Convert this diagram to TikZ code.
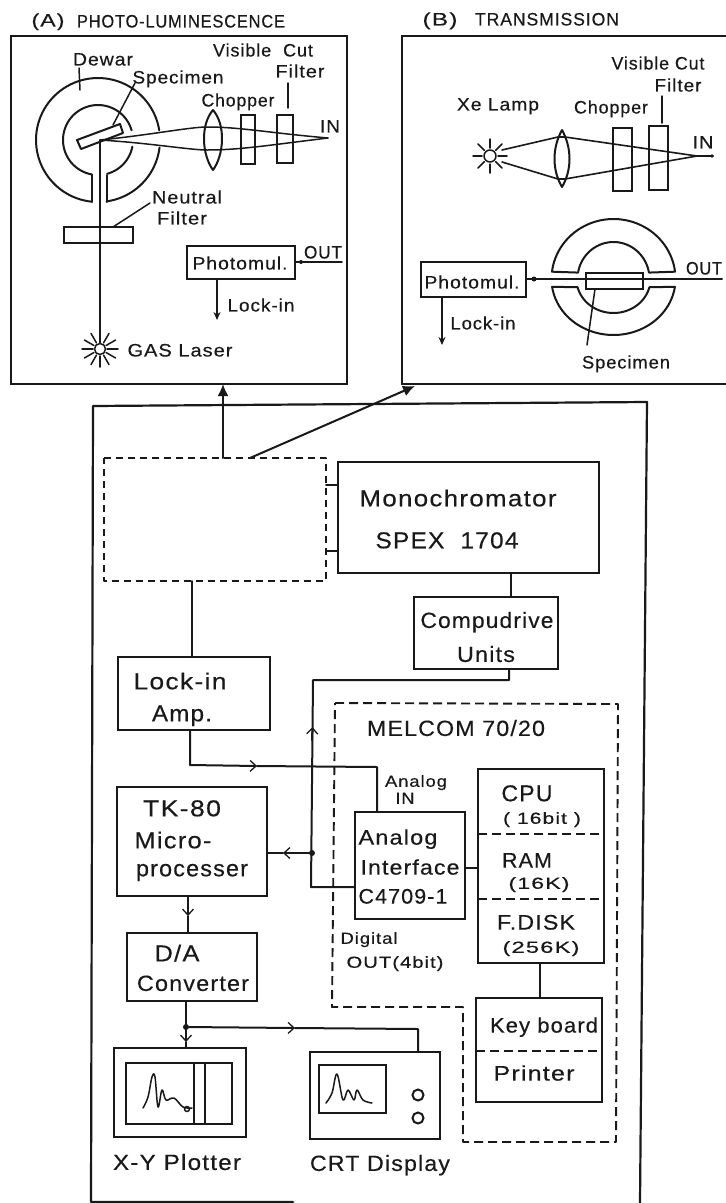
\documentclass[tikz,border=0pt]{standalone}
\usepackage{fontspec}
\usepackage{graphicx}
\setmainfont[LetterSpace=5,FakeBold=0.35]{Liberation Sans}
\usetikzlibrary{arrows.meta}
\tikzset{
  ln/.style={line width=2pt,line join=round,line cap=round,black!90},
  thin ln/.style={line width=1.5pt,line join=round,line cap=round,black!90},
  bxs/.style={draw=black!90,line width=2.1pt,inner sep=0pt,outer sep=0pt,fill=none},
  lab/.style={inner sep=0pt,outer sep=0pt,text=black!90,anchor=base},
  dsh/.style={line width=1.9pt,black!90,dash pattern=on 9pt off 5pt},
  dsh2/.style={line width=1.9pt,black!90,dash pattern=on 7pt off 5pt},
  barb/.style={-{Straight Barb[length=6pt,width=11pt,line width=1.3pt]}},
  solidtip/.style={-{Stealth[length=8pt,width=7pt]}},
  bigtip/.style={-{Latex[length=12pt,width=11pt]}},
  jdot/.style={circle,fill=black!90,inner sep=0pt,minimum size=5pt},
}
\newcommand\bx[5]{%
  \pgfmathsetmacro\bxw{#4-#2}\pgfmathsetmacro\bxh{#5-#3}%
  \pgfmathsetmacro\bxx{(#2+#4)/2}\pgfmathsetmacro\bxy{(#3+#5)/2}%
  \node[bxs,minimum width=\bxw pt,minimum height=\bxh pt] (#1) at (\bxx,\bxy) {};}
% name, centre x, cap-centre y, font size, width, text
\newcommand\lb[6]{\pgfmathsetmacro\lby{#3+0.36*#4}%
  \node[lab,font=\fontsize{#4}{#4}\selectfont] (#1) at (#2,\lby) {\resizebox{#5pt}{\height}{#6}};}
\newcommand\rayset[5]{% x y r1 r2 step
  \foreach \a in {0,#5,...,359} \draw[thin ln] ({#1+#3*cos(\a)},{#2+#3*sin(\a)}) -- ({#1+#4*cos(\a)},{#2+#4*sin(\a)});}
\begin{document}
\begin{tikzpicture}[x=1pt,y=-1pt]
\useasboundingbox (0,0) rectangle (726,1203);
\fill[white] (0,0) rectangle (726,1203);
% ---------- panel A
\bx{panA}{11}{36}{347}{384}
\lb{tA}{48}{20}{18}{33}{(A)}
\lb{tAb}{181}{21}{18}{208}{PHOTO-LUMINESCENCE}
% dewar
\draw[ln] plot[domain=95.5:351,samples=70] ({98+62*cos(\x)},{140+62*sin(\x)});
\draw[ln] plot[domain=344:100,samples=50] ({98+35*cos(\x)},{140+35*sin(\x)});
\draw[ln] (92,175) -- (92,202);
\draw[ln] plot[domain=82:7,samples=25] ({98+62*cos(\x)},{140+62*sin(\x)});
\draw[ln] plot[domain=11:75,samples=20] ({98+35*cos(\x)},{140+35*sin(\x)});
\draw[ln] (107,175) -- (107,202);
\draw[ln,fill=white] (77,140) -- (120,124) -- (123,133) -- (81,149) -- cycle;
\draw[thin ln] (135,83) -- (113,125);
\draw[thin ln] (79,68) -- (80,90);
% beam A
\coordinate (fA) at (100,140);
\coordinate (iA) at (328,138);
\draw[thin ln] (fA) .. controls (150,135) and (190,127) .. (207,127) .. controls (240,127) and (270,133) .. (iA);
\draw[thin ln] (fA) .. controls (150,143) and (190,150) .. (207,150) .. controls (240,150) and (270,145) .. (iA);
\draw[ln] (213,110) .. controls (200,125) and (202,155) .. (213,170) .. controls (224,155) and (226,125) .. (213,110);
\bx{chopA}{241}{115}{255}{164}
\bx{filtA}{277}{115}{293}{163}
\draw[thin ln] (288,83) -- (288,108);
\bx{neutA}{64}{227}{133}{243}
\draw[thin ln] (150,203) -- (neutA.north -| 113,0);
\draw[thin ln] (fA) -- (100,347);
\bx{pmA}{187}{246}{295}{279}
\coordinate (outA) at (342,262);
\draw[thin ln] (outA) -- (pmA.east |- 0,262);
\node[jdot,minimum size=4pt] (dA) at (301,262) {};
\coordinate (liA) at (217,320);
\draw[thin ln,solidtip] (pmA.south -| 217,0) -- (liA);
\draw[thin ln,fill=white] (100,349) circle (5.5);
\rayset{100}{349}{7}{18}{30}
\lb{a1}{263}{50}{18}{100}{Visible\ \ Cut}
\lb{a2}{300}{71}{18}{49}{Filter}
\lb{a3}{238}{100}{18}{73}{Chopper}
\lb{a4}{330}{126}{18}{20}{IN}
\lb{a5}{103}{59}{18}{60}{Dewar}
\lb{a6}{178}{77}{18}{91}{Specimen}
\lb{a7}{187}{197}{18}{70}{Neutral}
\lb{a8}{182}{218}{18}{50}{Filter}
\lb{a9}{323}{252}{18}{38}{OUT}
\lb{a10}{240}{263}{18}{95}{Photomul.}
\lb{a11}{261}{305}{18}{67}{Lock-in}
\lb{a12}{180}{350}{18}{105}{GAS Laser}
% ---------- panel B
\draw[bxs] (726,36) -- (402,36) -- (402,384) -- (726,384);
\coordinate (panB) at (415,386);
\lb{tB}{440}{19}{18}{35}{(B)}
\lb{tBb}{547}{19}{18}{144}{TRANSMISSION}
\draw[ln] (562,130) .. controls (552,148) and (552,170) .. (562,187) .. controls (572,170) and (572,148) .. (562,130);
\draw[thin ln,line width=1.6pt] (502,150) -- (558,137) -- (565,137) -- (697,156) -- (565,179) -- (558,179) -- (502,162);
\draw[thin ln] (697,156) -- (713,156);
\fill[black!90] (712,156) circle (1.8);
\bx{chopB}{613}{128}{632}{191}
\bx{filtB}{649}{126}{668}{190}
\draw[thin ln] (662,96) -- (662,123);
\draw[thin ln] (490,156) circle (6);
\rayset{490}{156}{8}{17}{45}
\bx{pmB}{421}{262}{526}{297}
\coordinate (outB) at (722,279);
\draw[ln] (pmB.east |- 0,279) -- (outB);
\node[jdot] (dB) at (534,279) {};
\coordinate (liB) at (442,345);
\draw[thin ln,solidtip] (pmB.south -| 442,0) -- (liB);
% dewar B
\draw[ln] plot[domain=187:353,samples=50] ({613.5+62*cos(\x)},{279+60*sin(\x)})
  -- plot[domain=350:190,samples=40] ({613.5+36*cos(\x)},{279+37*sin(\x)}) -- cycle;
\draw[ln] plot[domain=8:172,samples=50] ({613.5+62*cos(\x)},{279+56*sin(\x)})
  -- plot[domain=166:14,samples=40] ({613.5+37*cos(\x)},{279+34*sin(\x)}) -- cycle;
\bx{specB}{586}{273}{643}{289}
\lb{b9}{626}{362}{18}{88}{Specimen}
\draw[thin ln] (specB.south -| 595,0) -- (587,345);
\lb{b1}{658}{63}{18}{93}{Visible Cut}
\lb{b2}{678}{85}{18}{47}{Filter}
\lb{b3}{498}{104}{18}{82}{Xe Lamp}
\lb{b4}{611}{107}{18}{74}{Chopper}
\lb{b5}{703}{142}{18}{21}{IN}
\lb{b6}{704}{268}{18}{36}{OUT}
\lb{b7}{472}{282}{18}{95}{Photomul.}
\lb{b8}{483}{323}{18}{65}{Lock-in}
% ---------- main box
\draw[ln,line width=2.2pt] (647,402) -- (93,406) -- (91,1202) -- (293,1202);
\draw[ln,line width=2.2pt] (647,402) -- (640,1203);
% dashed optics box
\draw[dsh2,line join=round] (104,458) -- (326,458) -- (326,581) -- (104,581) -- cycle;
\bx{mono}{338}{462}{599}{573}
\coordinate (dbE1) at (326,485);
\coordinate (dbE2) at (326,551);
\draw[ln] (dbE1) -- (mono.west |- dbE1);
\draw[ln] (dbE2) -- (mono.west |- dbE2);
\lb{m1}{458}{498}{23}{197}{Monochromator}
\lb{m2}{447}{540}{23}{143}{SPEX\ \ 1704}
\coordinate (dbT1) at (223,458);
\coordinate (dbT2) at (250,458);
\draw[ln,bigtip] (dbT1) -- (panA.south -| 223,0);
\draw[ln,bigtip] (dbT2) -- (panB);
\bx{comp}{414}{597}{558}{669}
\draw[ln] (mono.south -| 511,0) -- (comp.north -| 511,0);
\lb{c1}{487}{620}{22}{133}{Compudrive}
\lb{c2}{486}{654}{22}{58}{Units}
\bx{lock}{118}{657}{270}{730}
\coordinate (dbB) at (192,581);
\draw[ln] (dbB) -- (lock.north -| 192,0);
\lb{l1}{180}{681}{23}{93}{Lock-in}
\lb{l2}{182}{713}{23}{60}{Amp.}
\bx{tk}{117}{787}{267}{896}
\lb{t1}{182}{808}{23}{78}{TK-80}
\lb{t2}{173}{840}{23}{77}{Micro-}
\lb{t3}{192}{868}{23}{112}{processer}
% MELCOM dashed
\draw[dsh,line join=round] (335,703) -- (618,704) -- (616,1142) -- (463,1142) -- (463,1007) -- (332,1007) -- cycle;
\lb{me}{456}{728}{22}{178}{MELCOM 70/20}
\bx{ana}{355}{812}{465}{919}
\bx{cpu}{478}{769}{604}{963}
\draw[dsh,line width=1.6pt] (cpu.west |- 0,834) -- (cpu.east |- 0,834);
\draw[dsh,line width=1.6pt] (cpu.west |- 0,899) -- (cpu.east |- 0,899);
\draw[ln] (ana.east |- 0,868) -- (cpu.west |- 0,868);
\lb{cp1}{527}{793}{23}{51}{CPU}
\lb{cp2}{542}{818}{16}{78}{( 16bit )}
\lb{cp3}{527}{860}{21}{50}{RAM}
\lb{cp4}{539}{883}{16}{61}{(16K)}
\lb{cp5}{536}{922}{21}{78}{F.DISK}
\lb{cp6}{541}{947}{16}{77}{(256K)}
\lb{an1}{398}{837}{21}{79}{Analog}
\lb{an2}{410}{867}{21}{99}{Interface}
\lb{an3}{403}{896}{21}{89}{C4709-1}
\lb{ai1}{416}{781}{16}{62}{Analog}
\lb{ai2}{405}{798}{16}{19}{IN}
\lb{di1}{369}{938}{16}{57}{Digital}
\lb{di2}{395}{962}{16}{97}{OUT(4bit)}
\bx{kb}{476}{998}{602}{1102}
\draw[ln] (cpu.south -| 540,0) -- (kb.north -| 540,0);
\draw[dsh,line width=1.6pt] (kb.west |- 0,1051) -- (kb.east |- 0,1051);
\lb{k1}{544}{1025}{21}{108}{Key board}
\lb{k2}{534}{1073}{21}{81}{Printer}
% lock-in to analog
\coordinate (la1) at (190,765);
\coordinate (la2) at (257,766);
\coordinate (la3) at (377,767);
\draw[ln,barb] (lock.south -| 190,0) -- (la1) -- (la2);
\draw[ln] (la2) -- (la3) -- (ana.north -| 377,0);
% compudrive / analog to TK-80
\coordinate (cd1) at (509,680);
\coordinate (cd2) at (313,680);
\coordinate (cd3) at (311,887);
\coordinate (up1) at (312.5,727);
\node[jdot,minimum size=6pt] (j1) at (312,853) {};
\coordinate (tkm) at (283,853);
\draw[ln] (comp.south -| 509,0) -- (cd1) -- (cd2) -- (cd3) -- (ana.west |- cd3);
\draw[ln,barb] (312,740) -- (up1);
\draw[ln,barb] (j1) -- (tkm);
\draw[ln] (tkm) -- (tk.east |- tkm);
% TK to D/A
\bx{da}{127}{933}{257}{1001}
\coordinate (tdm) at (188,916);
\draw[ln,barb] (tk.south -| 188,0) -- (tdm);
\draw[ln] (tdm) -- (da.north -| 188,0);
\lb{d1}{177}{953}{23}{45}{D/A}
\lb{d2}{193}{983}{22}{112}{Converter}
% plotter
\bx{plot}{114}{1048}{246}{1137}
\bx{ploti}{126}{1063}{232}{1124}
\draw[ln,line width=2.4pt] (194,1063) -- (194,1124);
\draw[thin ln] (205,1063) -- (205,1124);
\draw[thin ln] plot[smooth,tension=.6] coordinates {(143,1108) (148,1097) (152,1077) (155,1077) (158,1107) (162,1090) (166,1100) (174,1098) (183,1107) (192,1108)};
\draw[thin ln] (187,1109) circle (2.5);
\lb{x1}{177}{1162}{22}{128}{X-Y Plotter}
% CRT
\bx{crt}{310}{1052}{440}{1139}
\bx{crti}{319}{1065}{386}{1113}
\draw[thin ln] plot[smooth,tension=.6] coordinates {(326,1103) (332,1093) (337,1074) (343,1100) (348,1090) (354,1100) (357,1090) (363,1100) (372,1103)};
\node[draw=black!90,line width=2pt,circle,inner sep=0pt,minimum size=11pt] (k1c) at (418,1095) {};
\node[draw=black!90,line width=2pt,circle,inner sep=0pt,minimum size=11pt] (k2c) at (418,1118) {};
\lb{x2}{380}{1163}{22}{140}{CRT Display}
% D/A outputs
\node[jdot,minimum size=6pt] (j2) at (186,1027) {};
\coordinate (dp) at (186,1042);
\coordinate (dc) at (295,1028);
\coordinate (dc2) at (418,1029);
\draw[ln,barb] (da.south -| 186,0) -- (dp);
\draw[ln] (dp) -- (plot.north -| 186,0);
\draw[ln,barb] (j2) -- (dc);
\draw[ln] (dc) -- (dc2) -- (crt.north -| 418,0);
\end{tikzpicture}
\end{document}
